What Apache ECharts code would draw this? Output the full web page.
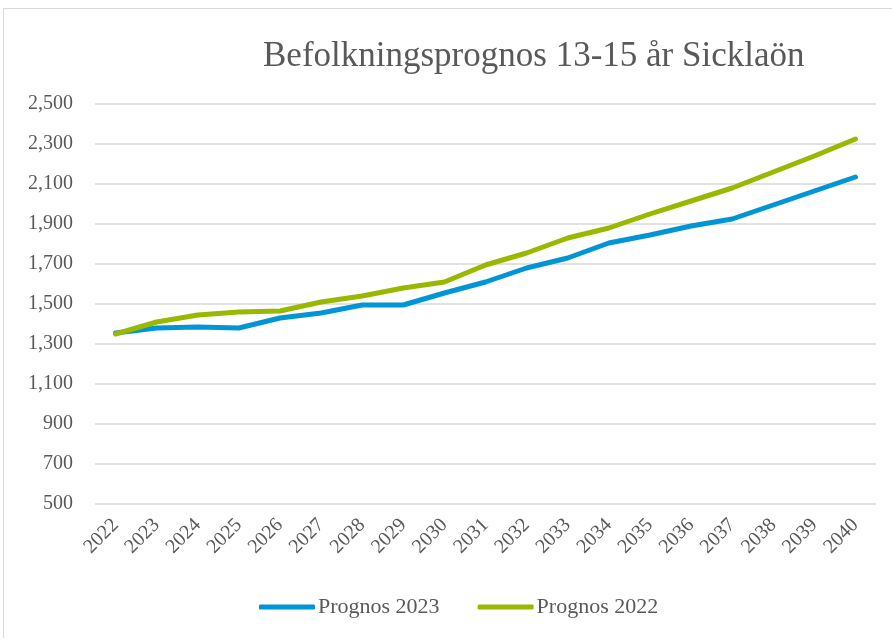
<!DOCTYPE html>
<html>
<head>
<meta charset="utf-8">
<script src="https://cdn.jsdelivr.net/npm/echarts@6/dist/echarts.min.js"></script>
<style>
body { margin: 0; background: #fff; }
#frame { position: absolute; left: 3px; top: 8px; width: 900px; height: 640px; border: 1px solid #d9d9d9; }
#main { position: absolute; left: 0; top: 0; width: 892px; height: 638px; }
</style>
</head>
<body>
<div id="frame"></div>
<div id="main"></div>
<script>
var years = ['2022','2023','2024','2025','2026','2027','2028','2029','2030','2031','2032','2033','2034','2035','2036','2037','2038','2039','2040']
var prognos2023 = [1355,1380,1385,1380,1430,1455,1495,1495,1555,1610,1680,1730,1805,1845,1890,1925,1995,2065,2135]
var prognos2022 = [1350,1410,1445,1460,1465,1510,1540,1580,1610,1695,1755,1830,1880,1950,2015,2080,2160,2240,2325]
var yTicks = [500, 2500, 200]

var font = '"Liberation Serif", "DejaVu Serif", serif'
var mCharts = echarts.init(document.getElementById('main'))
var option = {
    animation: false,
    title: {
        text: 'Befolkningsprognos 13-15 år Sicklaön',
        left: 258,
        top: 34,
        textStyle: { fontFamily: font, fontSize: 35, fontWeight: 'normal', color: '#595959' }
    },
    legend: {
        bottom: 15,
        left: 254,
        itemWidth: 56,
        itemHeight: 5,
        itemGap: 38,
        icon: 'roundRect',
        textStyle: { fontFamily: font, fontSize: 22, color: '#595959', padding: [0, 0, 0, -2] },
        data: ['Prognos 2023', 'Prognos 2022']
    },
    grid: { left: 95, right: 16, top: 104, bottom: 134 },
    xAxis: {
        type: 'category',
        data: years,
        boundaryGap: true,
        axisLine: { show: false },
        axisTick: { show: false },
        axisLabel: { rotate: 45, fontFamily: font, fontSize: 20, color: '#595959', margin: 18 }
    },
    yAxis: {
        type: 'value',
        min: yTicks[0],
        max: yTicks[1],
        interval: yTicks[2],
        axisLine: { show: false },
        axisTick: { show: false },
        splitLine: { lineStyle: { color: '#d9d9d9', width: 1.5 } },
        axisLabel: {
            fontFamily: font, fontSize: 20, color: '#595959', margin: 22,
            formatter: function (v) { return v.toLocaleString('en-US') }
        }
    },
    series: [
        {
            name: 'Prognos 2023',
            type: 'line',
            data: prognos2023,
            symbol: 'none',
            lineStyle: { width: 5, color: '#0096d6', cap: 'round', join: 'round' },
            itemStyle: { color: '#0096d6' }
        },
        {
            name: 'Prognos 2022',
            type: 'line',
            data: prognos2022,
            symbol: 'none',
            lineStyle: { width: 5, color: '#99b800', cap: 'round', join: 'round' },
            itemStyle: { color: '#99b800' }
        }
    ]
}
mCharts.setOption(option)
</script>
</body>
</html>
